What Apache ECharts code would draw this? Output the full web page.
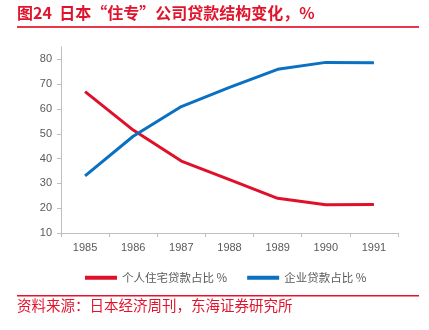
<!DOCTYPE html>
<html><head><meta charset="utf-8">
<script src="https://cdn.jsdelivr.net/npm/echarts@6/dist/echarts.min.js"></script>
<style>html,body{margin:0;padding:0;background:#fff}#c{width:429px;height:330px}</style>
</head><body><div id="c"></div>
<script>
var years = ['1985','1986','1987','1988','1989','1990','1991'];
var personal = [67, 51.5, 39, 31.5, 24, 21.4, 21.5];
var corporate = [33, 49, 61, 68.7, 76, 78.8, 78.6];
var yTicks = [10, 20, 30, 40, 50, 60, 70, 80];
var seriesNames = ['个人住宅贷款占比 %', '企业贷款占比 %'];
var titleText = '图24  日本“住专”公司贷款结构变化，%';
var sourceText = '资料来源：日本经济周刊，东海证券研究所';

var chart = echarts.init(document.getElementById('c'), null, {renderer: 'canvas'});
var font = '"Noto Sans CJK SC", "Liberation Sans", sans-serif';
chart.setOption({
  animation: false,
  backgroundColor: '#fff',
  textStyle: {fontFamily: font},
  graphic: [
    {type: 'text', left: 17, top: 5, style: {text: titleText, fill: '#E0152D', font: 'bold 16px ' + font}},
    {type: 'rect', shape: {x: 17, y: 26, width: 402, height: 2}, style: {fill: '#E8384C'}},
    {type: 'rect', shape: {x: 17, y: 295, width: 402, height: 1.5}, style: {fill: '#E8102A'}},
    {type: 'text', left: 17, top: 298, style: {text: sourceText, fill: '#E0152D', font: '14.5px ' + font}}
  ],
  grid: {left: 61, right: 31, top: 47, bottom: 97},
  legend: {
    top: 267, left: 80,
    itemWidth: 32, itemHeight: 4, itemGap: 20,
    icon: 'rect',
    textStyle: {color: '#595959', fontSize: 11.5, fontFamily: font},
    data: seriesNames
  },
  xAxis: {
    type: 'category', data: years, boundaryGap: true,
    axisLine: {lineStyle: {color: '#BFBFBF', width: 1}},
    axisTick: {show: true, length: 4, lineStyle: {color: '#BFBFBF'}},
    axisLabel: {color: '#595959', fontSize: 11, margin: 9, fontFamily: '"Liberation Sans", sans-serif'}
  },
  yAxis: {
    type: 'value', min: 10, max: 85, interval: 10,
    axisLine: {show: true, lineStyle: {color: '#BFBFBF', width: 1}},
    axisTick: {show: true, length: 4, lineStyle: {color: '#BFBFBF'}, customValues: yTicks},
    axisLabel: {color: '#595959', fontSize: 11, margin: 9, customValues: yTicks, fontFamily: '"Liberation Sans", sans-serif'},
    splitLine: {show: false}
  },
  series: [
    {name: seriesNames[0], type: 'line', data: personal, symbol: 'none',
     lineStyle: {color: '#E0102A', width: 3}, itemStyle: {color: '#E0102A'}},
    {name: seriesNames[1], type: 'line', data: corporate, symbol: 'none',
     lineStyle: {color: '#0A70C2', width: 3}, itemStyle: {color: '#0A70C2'}}
  ]
});
</script></body></html>
